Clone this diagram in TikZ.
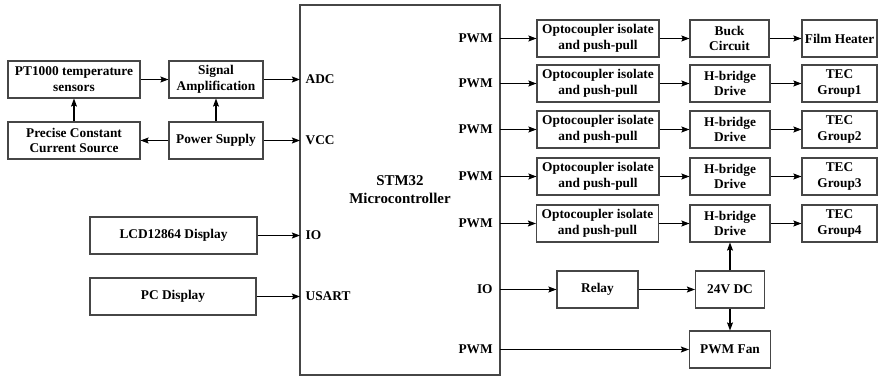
\documentclass[tikz,border=0pt]{standalone}
\usepackage{fontspec}
\setmainfont{Liberation Serif}
\usetikzlibrary{arrows.meta}
\definecolor{edge}{RGB}{70,70,70}
\tikzset{
  blk/.style={draw=edge,line width=0.6pt,minimum height=0.74cm,inner sep=0pt,
    align=center,font=\fontsize{7.6}{9}\selectfont\bfseries},
  chip/.style={draw=edge,line width=0.7pt,minimum width=4cm,minimum height=7.4cm,
    align=center,font=\fontsize{8.5}{10.2}\selectfont\bfseries},
  pinl/.style={anchor=west,inner xsep=3pt,inner ysep=0pt,font=\fontsize{7.6}{9}\selectfont\bfseries},
  pinr/.style={anchor=east,inner xsep=4pt,inner ysep=0pt,font=\fontsize{7.6}{9}\selectfont\bfseries},
  link/.style={line width=0.6pt,-{Stealth[length=4.6pt,width=3.4pt,inset=0.8pt]}}
}
\begin{document}
\begin{tikzpicture}[x=0.02cm,y=-0.02cm]
  \useasboundingbox (0,0) rectangle (878,378);

  % Microcontroller
  \node[chip] (mcu) at (400,190) {STM32\\Microcontroller};

  % Sensor side
  \node[blk,minimum width=2.64cm] (pt) at (74,79.5) {PT1000 temperature\\sensors};
  \node[blk,minimum width=1.88cm] (amp) at (216,79.5) {Signal\\Amplification};
  \node[blk,minimum width=2.64cm] (src) at (74,140.5) {Precise Constant\\Current Source};
  \node[blk,minimum width=1.88cm] (pwr) at (216,140.5) {Power Supply};

  % Displays
  \node[blk,minimum width=3.34cm] (lcd) at (173.5,235.5) {LCD12864 Display};
  \node[blk,minimum width=3.32cm] (pc) at (173,296.5) {PC Display};

  % Left pins
  \node[pinl] (adc) at (300,79.5) {ADC};
  \node[pinl] (vcc) at (300,140.5) {VCC};
  \node[pinl] (iol) at (300,235.5) {IO};
  \node[pinl] (usart) at (300,296.5) {USART};

  % Right pins
  \node[pinr] (pwm1) at (500,38.5) {PWM};
  \node[pinr] (pwm2) at (500,83.5) {PWM};
  \node[pinr] (pwm3) at (500,129.5) {PWM};
  \node[pinr] (pwm4) at (500,176.5) {PWM};
  \node[pinr] (pwm5) at (500,223.5) {PWM};
  \node[pinr] (ior) at (500,289.5) {IO};
  \node[pinr] (pwm6) at (500,349.5) {PWM};

  % Drive chains
  \node[blk,minimum width=2.44cm] (opto1) at (598,38.5) {Optocoupler isolate\\and push-pull};
  \node[blk,minimum width=2.44cm] (opto2) at (598,83.5) {Optocoupler isolate\\and push-pull};
  \node[blk,minimum width=2.44cm] (opto3) at (598,129.5) {Optocoupler isolate\\and push-pull};
  \node[blk,minimum width=2.44cm] (opto4) at (598,176.5) {Optocoupler isolate\\and push-pull};
  \node[blk,minimum width=2.44cm] (opto5) at (597.5,223.5) {Optocoupler isolate\\and push-pull};

  \node[blk,minimum width=1.58cm] (buck) at (729.5,38.5) {Buck\\Circuit};
  \node[blk,minimum width=1.6cm] (hb2) at (730,83.5) {H-bridge\\Drive};
  \node[blk,minimum width=1.6cm] (hb3) at (730,129.5) {H-bridge\\Drive};
  \node[blk,minimum width=1.6cm] (hb4) at (730,176.5) {H-bridge\\Drive};
  \node[blk,minimum width=1.6cm] (hb5) at (730,223.5) {H-bridge\\Drive};

  \node[blk,minimum width=1.5cm] (heater) at (839.5,38.5) {Film Heater};
  \node[blk,minimum width=1.5cm] (tec1) at (839.5,83.5) {TEC\\Group1};
  \node[blk,minimum width=1.5cm] (tec2) at (839.5,129.5) {TEC\\Group2};
  \node[blk,minimum width=1.5cm] (tec3) at (839.5,176.5) {TEC\\Group3};
  \node[blk,minimum width=1.5cm] (tec4) at (839.5,223.5) {TEC\\Group4};

  % Power stage
  \node[blk,minimum width=1.62cm] (relay) at (597.5,289.5) {Relay};
  \node[blk,minimum width=1.38cm] (dc) at (730,289.5) {24V DC};
  \node[blk,minimum width=1.62cm] (fan) at (730,349.5) {PWM Fan};

  % Left connectors
  \draw[link] (pt) -- (amp);
  \draw[link] (src) -- (pt);
  \draw[link] (pwr) -- (src);
  \draw[link] (pwr) -- (amp);
  \draw[link] (amp.east) -- (adc.west);
  \draw[link] (pwr.east) -- (vcc.west);
  \draw[link] (lcd.east) -- (iol.west);
  \draw[link] (pc.east) -- (usart.west);

  % Right connectors
  \draw[link] (pwm1.east) -- (opto1.west);
  \draw[link] (pwm2.east) -- (opto2.west);
  \draw[link] (pwm3.east) -- (opto3.west);
  \draw[link] (pwm4.east) -- (opto4.west);
  \draw[link] (pwm5.east) -- (opto5.west);
  \draw[link] (opto1) -- (buck);
  \draw[link] (opto2) -- (hb2);
  \draw[link] (opto3) -- (hb3);
  \draw[link] (opto4) -- (hb4);
  \draw[link] (opto5) -- (hb5);
  \draw[link] (buck) -- (heater);
  \draw[link] (hb2) -- (tec1);
  \draw[link] (hb3) -- (tec2);
  \draw[link] (hb4) -- (tec3);
  \draw[link] (hb5) -- (tec4);

  \draw[link] (ior.east) -- (relay.west);
  \draw[link] (relay) -- (dc);
  \draw[link] (dc) -- (hb5);
  \draw[link] (dc) -- (fan);
  \draw[link] (pwm6.east) -- (fan.west);
\end{tikzpicture}
\end{document}
